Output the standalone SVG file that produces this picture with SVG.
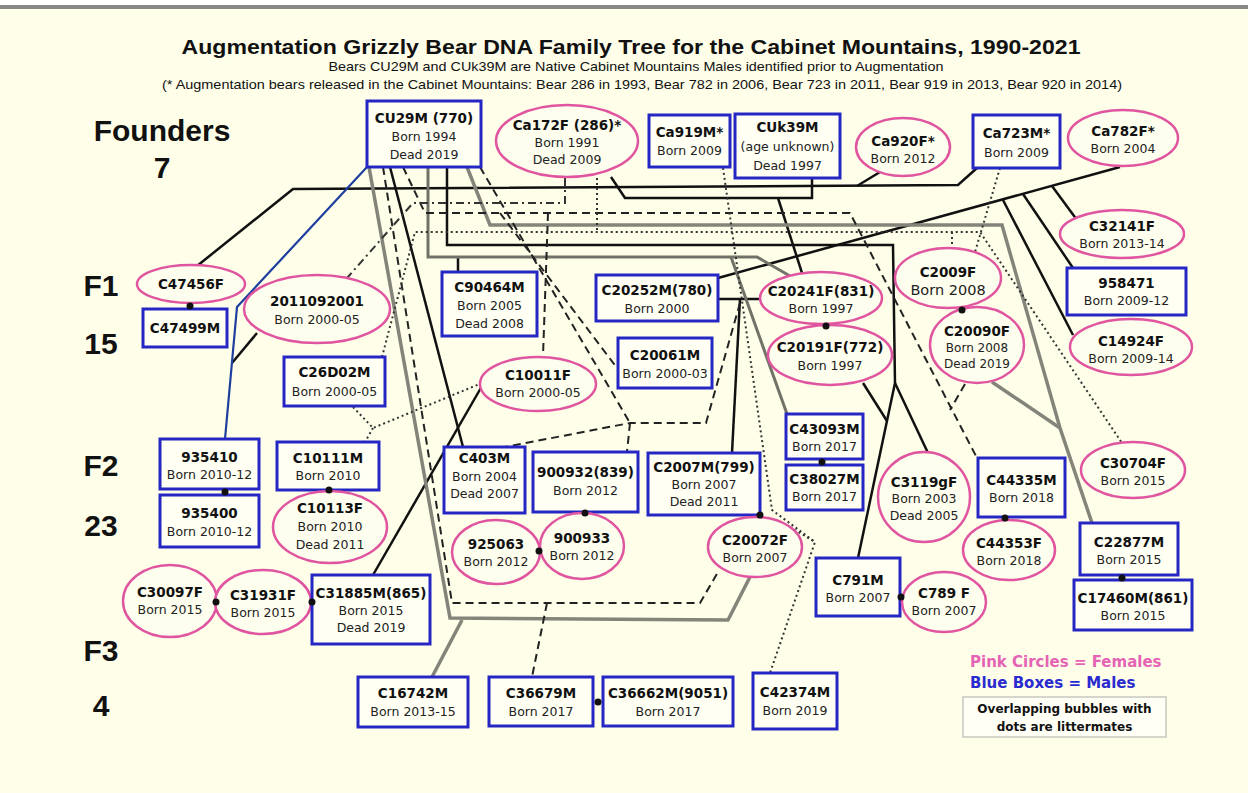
<svg xmlns="http://www.w3.org/2000/svg" width="1248" height="793" viewBox="0 0 1248 793">
<style>
.m{fill:#fffff4;stroke:#2626c4;stroke-width:3}
.f{fill:#fefeee;stroke:#e0559f;stroke-width:2.5}
.t{font-family:'DejaVu Sans',Verdana,sans-serif;font-size:13.5px;font-weight:bold;fill:#111;text-anchor:middle}
.s{font-family:'DejaVu Sans',Verdana,sans-serif;font-size:12.5px;fill:#222;text-anchor:middle}
.big{font-family:'Liberation Sans',Arial,sans-serif;font-size:30px;font-weight:bold;fill:#111;text-anchor:middle}
.k{fill:none;stroke:#111;stroke-width:2.5}
.g{fill:none;stroke:#84847a;stroke-width:3.5}
.g2{fill:none;stroke:#727268;stroke-width:3}
.d{fill:none;stroke:#222;stroke-width:2;stroke-dasharray:8 5}
.o{fill:none;stroke:#333;stroke-width:2;stroke-dasharray:2 3}
.dd{fill:none;stroke:#333;stroke-width:2;stroke-dasharray:8 4 2 4}
.b{fill:none;stroke:#1f3f9f;stroke-width:2.2}
.dot{fill:#111}
.hd{font-family:'Liberation Sans Narrow','Liberation Sans',Arial,sans-serif;fill:#111;text-anchor:middle}
</style>
<rect x="0" y="0" width="1248" height="793" fill="#fefee9"/>
<rect x="0" y="0" width="1248" height="5" fill="#ffffff"/>
<rect x="0" y="5" width="1248" height="4" fill="#888888"/>

<g id="titles">
<text class="hd" x="631" y="54" font-size="21" font-weight="bold" textLength="899" lengthAdjust="spacingAndGlyphs">Augmentation Grizzly Bear DNA Family Tree for the Cabinet Mountains, 1990-2021</text>
<text class="hd" x="636" y="71" font-size="13" fill="#222" textLength="615" lengthAdjust="spacingAndGlyphs">Bears CU29M and CUk39M are Native Cabinet Mountains Males identified prior to Augmentation</text>
<text class="hd" x="642" y="89" font-size="13" fill="#222" textLength="960" lengthAdjust="spacingAndGlyphs">(* Augmentation bears released in the Cabinet Mountains: Bear 286 in 1993, Bear 782 in 2006, Bear 723 in 2011, Bear 919 in 2013, Bear 920 in 2014)</text>
<text class="big" x="162" y="141">Founders</text>
<text class="big" x="162" y="178">7</text>
<text class="big" x="101" y="296">F1</text>
<text class="big" x="101" y="354">15</text>
<text class="big" x="101" y="476">F2</text>
<text class="big" x="101" y="536">23</text>
<text class="big" x="101" y="661">F3</text>
<text class="big" x="101" y="716">4</text>
</g>

<g id="connectors">
<path class="k" d="M197,266 L293,189 L958,185 L977,168"/>
<path class="k" d="M857,186 L880,172"/>
<path class="k" d="M611,177 L625,198 L812,198 L812,178"/>
<path class="k" d="M778,198 L802,273"/>
<path class="k" d="M1120,167 L718,278"/>
<path class="k" d="M1052,186 L1077,220"/>
<path class="k" d="M1023,194 L1073,268"/>
<path class="k" d="M1003,200 L1073,335"/>
<path class="k" d="M390,167 L463,447"/>
<path class="k" d="M447,167 L447,245 L893,245 L895,383 L858,558"/>
<path class="k" d="M895,383 L928,453"/>
<path class="k" d="M863,383 L887,421"/>
<path class="k" d="M718,299 L760,299"/>
<path class="k" d="M740,299 L732,453"/>
<path class="k" d="M373,575 L482,386"/>
<path class="k" d="M257,333 L232,363"/>
<path class="k" d="M458,257 L458,272"/>
<path class="b" d="M367,167 L237,307 L225,439"/>
<path class="g" d="M369,167 L450,618 L728,620 L750,577"/>
<path class="g" d="M462,620 L432,677"/>
<path class="g" d="M467,167 L490,225 L1002,225 L1060,428 L1092,523"/>
<path class="g" d="M992,382 L1060,428"/>
<path class="g2" d="M428,167 L428,257 L757,257 L790,276"/>
<path class="g2" d="M731,257 L787,414"/>
<path class="d" d="M383,167 L452,603 L700,603 L718,572"/>
<path class="d" d="M547,603 L532,677"/>
<path class="d" d="M403,167 L425,213 L850,213 L977,458"/>
<path class="d" d="M965,384 L950,410"/>
<path class="d" d="M740,303 L706,423 L630,423 L505,447"/>
<path class="d" d="M630,423 L627,452"/>
<path class="d" d="M480,167 L630,423"/>
<path class="d" d="M500,213 L617,368"/>
<path class="d" d="M548,213 L543,356"/>
<path class="o" d="M597,178 L597,232"/>
<path class="o" d="M382,357 L415,232 L980,232 L1122,443"/>
<path class="o" d="M952,232 L952,249"/>
<path class="o" d="M1000,168 L975,252"/>
<path class="o" d="M723,168 L772,510 L815,542 L770,673"/>
<path class="o" d="M790,527 L815,542"/>
<path class="o" d="M353,407 L373,428 L482,383"/>
<path class="o" d="M373,428 L365,442"/>
<path class="dd" d="M565,178 L565,203 L413,203 L347,278"/>
</g>

<g id="n-CU29M"><rect class="m" x="367" y="101" width="114" height="66"/><text class="t" x="424" y="123">CU29M (770)</text><text class="s" x="424" y="141">Born 1994</text><text class="s" x="424" y="159">Dead 2019</text></g>
<g id="n-Ca172F"><ellipse class="f" cx="567" cy="141" rx="71" ry="36"/><text class="t" x="567" y="130">Ca172F (286)*</text><text class="s" x="567" y="147">Born 1991</text><text class="s" x="567" y="164">Dead 2009</text></g>
<g id="n-Ca919M"><rect class="m" x="649" y="115" width="81" height="52"/><text class="t" x="689.5" y="137">Ca919M*</text><text class="s" x="689.5" y="155">Born 2009</text></g>
<g id="n-CUk39M"><rect class="m" x="735" y="114" width="105" height="64"/><text class="t" x="787.5" y="132">CUk39M</text><text class="s" x="787.5" y="151">(age unknown)</text><text class="s" x="787.5" y="170">Dead 1997</text></g>
<g id="n-Ca920F"><ellipse class="f" cx="903" cy="147" rx="47" ry="29"/><text class="t" x="903" y="146">Ca920F*</text><text class="s" x="903" y="163">Born 2012</text></g>
<g id="n-Ca723M"><rect class="m" x="973" y="115" width="87" height="53"/><text class="t" x="1016.5" y="138">Ca723M*</text><text class="s" x="1016.5" y="157">Born 2009</text></g>
<g id="n-Ca782F"><ellipse class="f" cx="1123" cy="138" rx="55" ry="28"/><text class="t" x="1123" y="136">Ca782F*</text><text class="s" x="1123" y="153">Born 2004</text></g>

<g id="n-C47456F"><ellipse class="f" cx="191" cy="284" rx="54" ry="19"/><text class="t" x="191" y="289">C47456F</text></g>
<g id="n-C47499M"><rect class="m" x="143" y="309" width="84" height="38"/><text class="t" x="185" y="333">C47499M</text></g>
<g id="n-2011092001"><ellipse class="f" cx="317" cy="309" rx="73" ry="34"/><text class="t" x="317" y="306">2011092001</text><text class="s" x="317" y="324">Born 2000-05</text></g>
<g id="n-C26D02M"><rect class="m" x="284" y="357" width="101" height="49"/><text class="t" x="334.5" y="377">C26D02M</text><text class="s" x="334.5" y="396">Born 2000-05</text></g>
<g id="n-C90464M"><rect class="m" x="442" y="272" width="95" height="64"/><text class="t" x="489.5" y="292">C90464M</text><text class="s" x="489.5" y="310">Born 2005</text><text class="s" x="489.5" y="328">Dead 2008</text></g>
<g id="n-C20252M"><rect class="m" x="596" y="275" width="122" height="46"/><text class="t" x="657" y="295">C20252M(780)</text><text class="s" x="657" y="313">Born 2000</text></g>
<g id="n-C20061M"><rect class="m" x="618" y="338" width="94" height="50"/><text class="t" x="665" y="360">C20061M</text><text class="s" x="665" y="378">Born 2000-03</text></g>
<g id="n-C10011F"><ellipse class="f" cx="538" cy="384" rx="58" ry="27"/><text class="t" x="538" y="380">C10011F</text><text class="s" x="538" y="397">Born 2000-05</text></g>
<g id="n-C20241F"><ellipse class="f" cx="821" cy="298" rx="61" ry="26"/><text class="t" x="821" y="296">C20241F(831)</text><text class="s" x="821" y="313">Born 1997</text></g>
<g id="n-C20191F"><ellipse class="f" cx="830" cy="355" rx="62" ry="30"/><text class="t" x="830" y="352">C20191F(772)</text><text class="s" x="830" y="370">Born 1997</text></g>
<g id="n-C2009F"><ellipse class="f" cx="948" cy="278" rx="53" ry="30"/><text class="t" x="948" y="277">C2009F</text><text class="s" x="948" y="295" style="font-size:14.5px">Born 2008</text></g>
<g id="n-C20090F"><ellipse class="f" cx="977" cy="345" rx="47" ry="38"/><text class="t" x="977" y="336">C20090F</text><text class="s" x="977" y="352" style="font-size:12px">Born 2008</text><text class="s" x="977" y="368" style="font-size:12px">Dead 2019</text></g>
<g id="n-C32141F"><ellipse class="f" cx="1122" cy="234" rx="62" ry="24"/><text class="t" x="1122" y="231">C32141F</text><text class="s" x="1122" y="248">Born 2013-14</text></g>
<g id="n-958471"><rect class="m" x="1067" y="268" width="119" height="47"/><text class="t" x="1126.5" y="288">958471</text><text class="s" x="1126.5" y="305">Born 2009-12</text></g>
<g id="n-C14924F"><ellipse class="f" cx="1131" cy="347" rx="61" ry="28"/><text class="t" x="1131" y="346">C14924F</text><text class="s" x="1131" y="363">Born 2009-14</text></g>

<g id="n-935410"><rect class="m" x="160" y="439" width="99" height="50"/><text class="t" x="209.5" y="462">935410</text><text class="s" x="209.5" y="479">Born 2010-12</text></g>
<g id="n-935400"><rect class="m" x="160" y="495" width="99" height="52"/><text class="t" x="209.5" y="518">935400</text><text class="s" x="209.5" y="536">Born 2010-12</text></g>
<g id="n-C10111M"><rect class="m" x="277" y="442" width="102" height="48"/><text class="t" x="328" y="463">C10111M</text><text class="s" x="328" y="480">Born 2010</text></g>
<g id="n-C10113F"><ellipse class="f" cx="330" cy="527" rx="57" ry="36"/><text class="t" x="330" y="513">C10113F</text><text class="s" x="330" y="531">Born 2010</text><text class="s" x="330" y="549">Dead 2011</text></g>
<g id="n-C403M"><rect class="m" x="444" y="447" width="81" height="66"/><text class="t" x="484.5" y="463">C403M</text><text class="s" x="484.5" y="481">Born 2004</text><text class="s" x="484.5" y="498">Dead 2007</text></g>
<g id="n-900932"><rect class="m" x="533" y="452" width="105" height="60"/><text class="t" x="585.5" y="477">900932(839)</text><text class="s" x="585.5" y="495">Born 2012</text></g>
<g id="n-C2007M"><rect class="m" x="648" y="453" width="112" height="62"/><text class="t" x="704" y="472">C2007M(799)</text><text class="s" x="704" y="489">Born 2007</text><text class="s" x="704" y="506">Dead 2011</text></g>
<g id="n-C43093M"><rect class="m" x="786" y="414" width="77" height="45"/><text class="t" x="824.5" y="434">C43093M</text><text class="s" x="824.5" y="451">Born 2017</text></g>
<g id="n-C38027M"><rect class="m" x="786" y="465" width="77" height="45"/><text class="t" x="824.5" y="484">C38027M</text><text class="s" x="824.5" y="501">Born 2017</text></g>
<g id="n-C3119gF"><ellipse class="f" cx="924" cy="497" rx="46" ry="45"/><text class="t" x="924" y="487">C3119gF</text><text class="s" x="924" y="503">Born 2003</text><text class="s" x="924" y="520">Dead 2005</text></g>
<g id="n-C44335M"><rect class="m" x="978" y="458" width="87" height="59"/><text class="t" x="1021.5" y="485">C44335M</text><text class="s" x="1021.5" y="502">Born 2018</text></g>
<g id="n-C44353F"><ellipse class="f" cx="1009" cy="550" rx="46" ry="30"/><text class="t" x="1009" y="548">C44353F</text><text class="s" x="1009" y="565">Born 2018</text></g>
<g id="n-C30704F"><ellipse class="f" cx="1133" cy="470" rx="52" ry="28"/><text class="t" x="1133" y="468">C30704F</text><text class="s" x="1133" y="485">Born 2015</text></g>
<g id="n-C22877M"><rect class="m" x="1080" y="523" width="98" height="52"/><text class="t" x="1129" y="547">C22877M</text><text class="s" x="1129" y="564">Born 2015</text></g>
<g id="n-C17460M"><rect class="m" x="1074" y="580" width="118" height="50"/><text class="t" x="1133" y="603">C17460M(861)</text><text class="s" x="1133" y="620">Born 2015</text></g>
<g id="n-925063"><ellipse class="f" cx="496" cy="552" rx="44" ry="32"/><text class="t" x="496" y="549">925063</text><text class="s" x="496" y="566">Born 2012</text></g>
<g id="n-900933"><ellipse class="f" cx="582" cy="546" rx="42" ry="33"/><text class="t" x="582" y="543">900933</text><text class="s" x="582" y="560">Born 2012</text></g>
<g id="n-C20072F"><ellipse class="f" cx="755" cy="547" rx="47" ry="30"/><text class="t" x="755" y="545">C20072F</text><text class="s" x="755" y="562">Born 2007</text></g>
<g id="n-C791M"><rect class="m" x="816" y="558" width="84" height="58"/><text class="t" x="858" y="585">C791M</text><text class="s" x="858" y="602">Born 2007</text></g>
<g id="n-C789F"><ellipse class="f" cx="944" cy="602" rx="42" ry="30"/><text class="t" x="944" y="598">C789 F</text><text class="s" x="944" y="615">Born 2007</text></g>
<g id="n-C30097F"><ellipse class="f" cx="170" cy="601" rx="47" ry="36"/><text class="t" x="170" y="597">C30097F</text><text class="s" x="170" y="614">Born 2015</text></g>
<g id="n-C31931F"><ellipse class="f" cx="263" cy="602" rx="48" ry="32"/><text class="t" x="263" y="600">C31931F</text><text class="s" x="263" y="617">Born 2015</text></g>
<g id="n-C31885M"><rect class="m" x="312" y="575" width="118" height="69"/><text class="t" x="371" y="598">C31885M(865)</text><text class="s" x="371" y="615">Born 2015</text><text class="s" x="371" y="632">Dead 2019</text></g>

<g id="n-C16742M"><rect class="m" x="358" y="677" width="110" height="50"/><text class="t" x="413" y="698">C16742M</text><text class="s" x="413" y="716">Born 2013-15</text></g>
<g id="n-C36679M"><rect class="m" x="489" y="677" width="104" height="49"/><text class="t" x="541" y="698">C36679M</text><text class="s" x="541" y="716">Born 2017</text></g>
<g id="n-C36662M"><rect class="m" x="603" y="677" width="130" height="49"/><text class="t" x="668" y="698">C36662M(9051)</text><text class="s" x="668" y="716">Born 2017</text></g>
<g id="n-C42374M"><rect class="m" x="753" y="673" width="84" height="56"/><text class="t" x="795" y="697">C42374M</text><text class="s" x="795" y="715">Born 2019</text></g>

<g id="littermate-dots">
<circle class="dot" cx="190" cy="306" r="3.5"/>
<circle class="dot" cx="225" cy="492" r="3.5"/>
<circle class="dot" cx="329" cy="490" r="3.5"/>
<circle class="dot" cx="585" cy="513" r="3.5"/>
<circle class="dot" cx="539" cy="551" r="3.5"/>
<circle class="dot" cx="760" cy="515" r="3.5"/>
<circle class="dot" cx="822" cy="462" r="3.5"/>
<circle class="dot" cx="826" cy="326" r="3.5"/>
<circle class="dot" cx="962" cy="310" r="3.5"/>
<circle class="dot" cx="1005" cy="518" r="3.5"/>
<circle class="dot" cx="1122" cy="578" r="3.5"/>
<circle class="dot" cx="901" cy="597" r="3.5"/>
<circle class="dot" cx="598" cy="702" r="3.5"/>
<circle class="dot" cx="216" cy="602" r="3.5"/>
<circle class="dot" cx="312" cy="602" r="3.5"/>
</g>

<g id="legend">
<text x="970" y="667" font-family="'DejaVu Sans',Verdana,sans-serif" font-size="15" font-weight="bold" fill="#e563b5">Pink Circles = Females</text>
<text x="970" y="688" font-family="'DejaVu Sans',Verdana,sans-serif" font-size="15" font-weight="bold" fill="#2a2ad0">Blue Boxes = Males</text>
<rect x="963" y="697" width="203" height="40" fill="#fffff6" stroke="#c8c8c0" stroke-width="1.5"/>
<text x="1064.5" y="713" font-family="'DejaVu Sans',Verdana,sans-serif" font-size="12" font-weight="bold" fill="#111" text-anchor="middle">Overlapping bubbles with</text>
<text x="1064.5" y="731" font-family="'DejaVu Sans',Verdana,sans-serif" font-size="12" font-weight="bold" fill="#111" text-anchor="middle">dots are littermates</text>
</g>
</svg>
